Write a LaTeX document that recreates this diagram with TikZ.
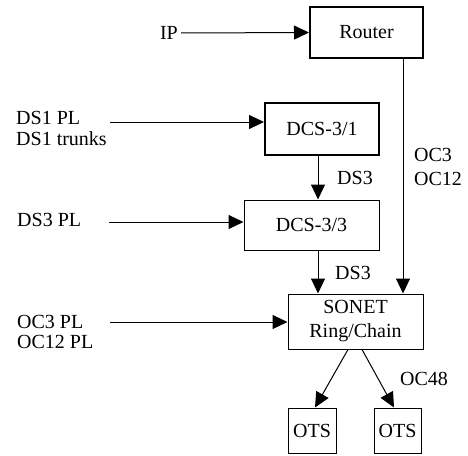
\documentclass[tikz,border=0pt]{standalone}
\usepackage{fontspec}
\setmainfont{Liberation Serif}
\usetikzlibrary{arrows.meta,calc}
\begin{document}
\begin{tikzpicture}[x=1pt,y=-1pt,
  every node/.style={font=\fontsize{20}{20}\selectfont},
  unit/.style={draw,line width=1pt,minimum width=#1,inner sep=0pt},
  heavy/.style={line width=2pt},
  lbl/.style={inner sep=0pt,align=left},
  flow/.style={line width=1pt,-{Triangle[length=15pt,width=14pt]}}]
\useasboundingbox (0,0) rectangle (468,455);
% equipment
\node[unit=113pt,heavy,minimum height=51pt] (router) at (366.5,32.5) {Router};
\node[unit=114pt,heavy,minimum height=52pt] (dcs31) at (322,129) {DCS-3/1};
\node[unit=135pt,minimum height=50pt] (dcs33) at (311.5,225) {DCS-3/3};
\node[unit=135pt,minimum height=55pt,align=center,font=\fontsize{20}{24}\selectfont] (sonet) at (355.5,321.5) {SONET\\Ring/Chain};
\node[unit=48pt,minimum height=45pt] (ots1) at (312,430.5) {OTS};
\node[unit=47pt,minimum height=45pt] (ots2) at (397.5,430.5) {OTS};
% inputs
\node[lbl,anchor=east] (ip) at (178,33) {IP};
\node[lbl,anchor=west,font=\fontsize{20}{21}\selectfont] (ds1) at (16,128) {DS1 PL\\DS1 trunks};
\node[lbl,anchor=west] (ds3pl) at (17,220) {DS3 PL};
\node[lbl,anchor=west,font=\fontsize{20}{20}\selectfont] (ocpl) at (17,332) {OC3 PL\\OC12 PL};
% link labels
\node[lbl,anchor=west] (l1) at (337,178) {DS3};
\node[lbl,anchor=west] (l2) at (335,273) {DS3};
\node[lbl,anchor=west,font=\fontsize{20}{24}\selectfont] (l3) at (414,167) {OC3\\OC12};
\node[lbl,anchor=west] (l4) at (400,379) {OC48};
% anchor points
\coordinate (s1) at (110,122);
\coordinate (s2) at (109,222);
\coordinate (s3) at (110,322);
\coordinate (xa) at (318,0);
\coordinate (xb) at (403,0);
% connectors
\draw[flow] ($(ip.east)+(3,0)$) -- (router.west);
\draw[flow] (s1) -- (s1 -| dcs31.west);
\draw[flow] (s2) -- (s2 -| dcs33.west);
\draw[flow] (s3) -- (s3 -| sonet.west);
\draw[flow] (dcs31.south -| xa) -- (dcs33.north -| xa);
\draw[flow] (dcs33.south -| xa) -- (sonet.north -| xa);
\draw[flow] (router.south -| xb) -- (sonet.north -| xb);
\draw[flow] ($(sonet.south)+(-7.5,0)$) -- ($(ots1.north)+(3,0)$);
\draw[flow] ($(sonet.south)+(6.5,0)$) -- ($(ots2.north)+(-3.5,0)$);
\end{tikzpicture}
\end{document}
